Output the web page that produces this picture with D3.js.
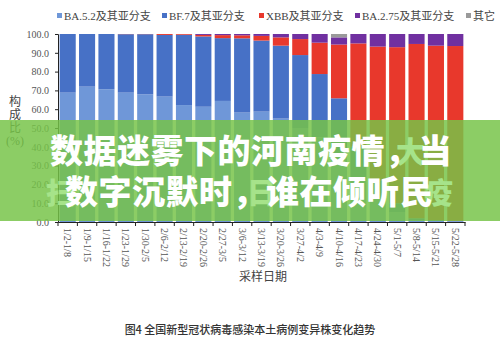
<!DOCTYPE html>
<html><head><meta charset="utf-8">
<script src="https://cdn.jsdelivr.net/npm/d3@7"></script>
<style>body{margin:0;background:#fff;}svg{display:block;}</style>
</head><body>
<svg id="c" width="500" height="342"></svg>
<script>
const categories = ["1/2-1/8","1/9-1/15","1/16-1/22","1/23-1/29","1/30-2/5","2/6-2/12","2/13-2/19","2/20-2/26","2/27-3/5","3/6-3/12","3/13-3/19","3/20-3/26","3/27-4/2","4/3-4/9","4/10-4/16","4/17-4/23","4/24-4/30","5/1-5/7","5/8-5/14","5/15-5/21","5/22-5/28"];
const seriesNames = ["BA.5.2及其亚分支","BF.7及其亚分支","XBB及其亚分支","BA.2.75及其亚分支","其它"];
const ba52  = [68.8,72.0,70.6,68.8,67.9,66.7,62.2,61.3,64.4,58.2,58.7,55.0,50.0,45.0,36.0,22.0,12.0,5.0,1.0,0.5,0.3];
const bf7   = [31.2,28.0,29.4,31.1,32.0,32.8,37.4,37.4,33.4,39.5,37.8,38.8,38.8,33.7,29.8,18.0,10.0,5.0,1.0,0.5,0.3];
const xbb   = [0,0,0,0.1,0.1,0.5,0.4,0.8,1.6,1.6,2.5,4.4,8.5,16.7,28.6,55.0,71.3,83.0,92.7,92.8,93.0];
const ba275 = [0,0,0,0,0,0,0,0.5,0.6,0.7,1.0,1.8,2.7,4.6,3.8,5.0,6.7,7.0,5.3,6.2,6.4];
const other = [0,0,0,0,0,0,0,0,0,0,0,0,0,0,1.8,0,0,0,0,0,0];
const yTicks = [0,10,20,30,40,50,60,70,80,90,100];
const colors = ["#6f97d8","#4771c6","#e8382c","#7030a0","#9a9a9a"];
const banner1 = "数据迷雾下的河南疫情，当";
const banner2 = "数字沉默时，谁在倾听民";

const keys = ["ba52","bf7","xbb","ba275","other"];
const rows = categories.map((c,i)=>({cat:c, ba52:ba52[i], bf7:bf7[i], xbb:xbb[i], ba275:ba275[i], other:other[i]}));
const stacked = d3.stack().keys(keys)(rows);

const svg = d3.select("#c");
const serif = "'Liberation Serif','Noto Sans CJK SC',serif";
const x = d3.scaleBand().domain(categories).range([58,465]).paddingInner(0.17).paddingOuter(0.085);
const y = d3.scaleLinear().domain([0,100]).range([222,34]);

// bars
svg.append("g").selectAll("g").data(stacked).join("g")
  .attr("fill",(d,i)=>colors[i])
  .selectAll("rect").data(d=>d).join("rect")
  .attr("x",d=>x(d.data.cat)).attr("width",x.bandwidth())
  .attr("y",d=>y(d[1])).attr("height",d=>Math.max(0,y(d[0])-y(d[1])));

// y axis
const ya = svg.append("g").attr("transform","translate(58,0)")
  .call(d3.axisLeft(y).tickValues(yTicks).tickFormat(d3.format(".1f")).tickSize(3).tickPadding(6));
ya.select(".domain").attr("stroke","#222");
ya.selectAll(".tick line").attr("stroke","#222");
ya.selectAll("text").attr("font-family",serif).attr("font-size",10).attr("fill","#555");

// x axis
const xa = svg.append("g").attr("transform","translate(0,222)")
  .call(d3.axisBottom(x).tickSize(0).tickPadding(0));
xa.select(".domain").attr("stroke","#222");
xa.selectAll(".tick text").attr("font-family",serif).attr("font-size",10).attr("fill","#555")
  .attr("text-anchor","start").attr("transform","translate(0,6) rotate(90)").attr("dy","0.35em").attr("y",0).attr("x",0);
const step = x.step();
svg.append("g").selectAll("line").data(d3.range(categories.length+1)).join("line")
  .attr("x1",i=>x(categories[0]) - x.paddingOuter()*step + i*step)
  .attr("x2",i=>x(categories[0]) - x.paddingOuter()*step + i*step)
  .attr("y1",222).attr("y2",226).attr("stroke","#222");

// legend
const legX = [57,162,259,355,466];
const lg = svg.append("g");
seriesNames.forEach((n,i)=>{
  lg.append("rect").attr("x",legX[i]).attr("y",13).attr("width",5).attr("height",5).attr("fill",colors[i]);
  lg.append("text").attr("x",legX[i]+7).attr("y",20).attr("font-family",serif).attr("font-size",11).attr("fill","#444").text(n);
});

// y label
["构","成","比","(%)"].forEach((ch,i)=>{
  svg.append("text").attr("x",15).attr("y",106+i*13).attr("text-anchor","middle")
    .attr("font-family",serif).attr("font-size",12).attr("fill","#444").text(ch);
});

// x label
svg.append("text").attr("x",263).attr("y",281).attr("text-anchor","middle")
  .attr("font-family",serif).attr("font-size",12).attr("fill","#444").text("采样日期");

// title
svg.append("text").attr("x",250).attr("y",334).attr("text-anchor","middle")
  .attr("font-family","'Noto Sans CJK SC',sans-serif").attr("font-size",11).attr("font-weight",500).attr("fill","#333")
  .text("图4 全国新型冠状病毒感染本土病例变异株变化趋势");

// overlay banner
svg.append("rect").attr("x",0).attr("y",120).attr("width",500).attr("height",101)
  .attr("fill","rgb(118,196,72)").attr("fill-opacity",0.84);
const cjk = "'Noto Sans CJK SC',sans-serif";
const ghost = [["大",396,163],["扫",46,204],["日",247,204],["疫",424,204]];
ghost.forEach(g=>{
  svg.append("text").attr("x",g[1]).attr("y",g[2]).attr("font-family",cjk).attr("font-weight",900)
    .attr("font-size",29).attr("fill","#a6e38a").text(g[0]);
});
svg.append("text").attr("x",50).attr("y",163).attr("font-family",cjk).attr("font-weight",900)
  .attr("font-size",33).attr("letter-spacing",0.5).attr("fill","#fff").text(banner1);
svg.append("text").attr("x",65).attr("y",204).attr("font-family",cjk).attr("font-weight",900)
  .attr("font-size",33).attr("letter-spacing",0.5).attr("fill","#fff").text(banner2);
</script>
</body></html>
